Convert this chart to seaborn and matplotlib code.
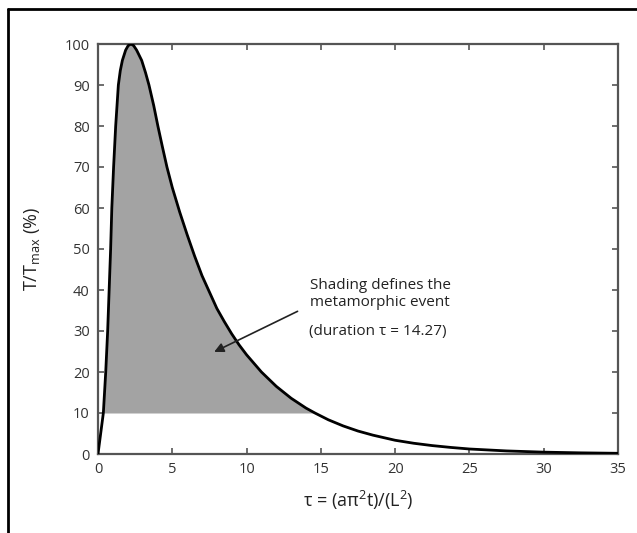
import matplotlib

matplotlib.use("Agg")
import matplotlib.pyplot as plt
import numpy as np
import pandas as pd
import seaborn as sns
from matplotlib.lines import Line2D

# values
tau = [0.0, 0.18, 0.36, 0.52, 0.65, 0.75, 0.85, 0.93, 1.05, 1.19, 1.28, 1.37,
       1.5, 1.64, 1.86, 2.03, 2.22, 2.4, 2.6, 2.94, 3.2, 3.43, 3.75, 4.03,
       4.33, 4.64, 5.0, 5.5, 6.0, 6.5, 7.0, 7.5, 8.0, 8.5, 9.0, 9.5, 10.0,
       11.0, 12.0, 13.0, 14.0, 14.6, 15.5, 16.5, 17.5, 18.5, 20.0, 21.25,
       22.5, 23.75, 25.0, 27.5, 30.0, 32.5, 35.0]
temp = [0.0, 5.0, 10.0, 20.0, 30.0, 40.0, 50.0, 60.0, 70.0, 80.0, 85.0, 90.0,
        93.5, 96.0, 98.5, 99.6, 100.0, 99.6, 98.5, 96.0, 93.0, 90.0, 85.0, 80.0,
        75.0, 70.0, 65.0, 59.0, 53.5, 48.3, 43.5, 39.5, 35.5, 32.3, 29.3, 26.6, 24.2,
        20.0, 16.5, 13.6, 11.2, 10.0, 8.35, 6.85, 5.6, 4.6, 3.35, 2.62,
        2.05, 1.6, 1.22, 0.75, 0.45, 0.28, 0.17]

threshold = 10
x_ticks = [0, 5, 10, 15, 20, 25, 30, 35]
y_ticks = [0, 10, 20, 30, 40, 50, 60, 70, 80, 90, 100]

sns.set_style("ticks")
plt.rcParams["font.family"] = ["Open Sans", "DejaVu Sans"]
plt.rcParams["mathtext.default"] = "regular"
plt.rcParams["mathtext.fontset"] = "custom"
plt.rcParams["mathtext.rm"] = "Open Sans"

df = pd.DataFrame({"tau": tau, "T": temp})

fig = plt.figure(figsize=(6.37, 5.33), dpi=100)
ax = fig.add_axes([98 / 637, 79 / 533, 520 / 637, 410 / 533])

t = np.array(tau)
y = np.array(temp)
ax.fill_between(t, threshold, y, where=y >= threshold, interpolate=True,
                color="#a3a3a3", linewidth=0, zorder=1)
sns.lineplot(data=df, x="tau", y="T", color="black", linewidth=2, ax=ax,
             sort=False, zorder=3)

ax.set_xlim(0, 35)
ax.set_ylim(0, 100)
ax.set_xticks(x_ticks)
ax.set_yticks(y_ticks)
ax.tick_params(direction="in", length=4, width=1.2, color="#555555",
               top=True, right=True, labelsize=10.5, labelcolor="#333333", pad=6)
for side in ax.spines.values():
    side.set_linewidth(1.6)
    side.set_color("#555555")

ax.set_xlabel("τ = (aπ$^2$t)/(L$^2$)", fontsize=13, labelpad=8, color="#222222")
ax.set_ylabel("T/T$_{max}$ (%)", fontsize=13, labelpad=16, color="#222222")

ax.annotate("", xy=(7.65, 24.6), xytext=(13.6, 35.1),
            arrowprops=dict(arrowstyle="-|>", color="#222222", lw=1.2,
                            mutation_scale=14))
ax.text(19.0, 39.0, "Shading defines the\nmetamorphic event", ha="center",
        va="center", multialignment="center", fontsize=11, color="#222222",
        linespacing=1.25)
ax.text(18.8, 30.0, "(duration τ = 14.27)", ha="center", va="center",
        fontsize=11, color="#222222")

# outer frame (left and top edges visible in the reference)
fig.add_artist(Line2D([8 / 637, 8 / 637], [0, 1 - 9 / 533], transform=fig.transFigure,
                      color="black", linewidth=2))
fig.add_artist(Line2D([8 / 637, 1], [1 - 9 / 533, 1 - 9 / 533], transform=fig.transFigure,
                      color="black", linewidth=2))

fig.savefig("out.png", dpi=100)
plt.close(fig)
